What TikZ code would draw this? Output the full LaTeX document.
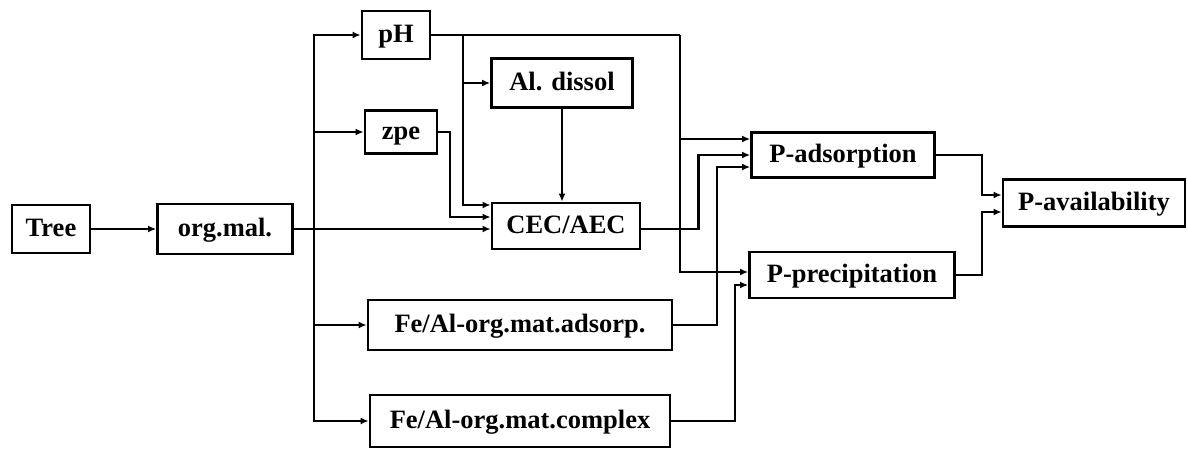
\documentclass[tikz,border=0pt]{standalone}
\usepackage{fontspec}
\setmainfont{Liberation Serif}
\usetikzlibrary{arrows.meta}
\begin{document}
\begin{tikzpicture}[x=1pt,y=-1pt,
  box/.style={draw,line width=2.8pt,inner sep=0pt,text height=17pt,text depth=2pt,font=\fontsize{26.5}{30}\selectfont\bfseries},
  conn/.style={line width=2.4pt},
  arr/.style={conn,-{Latex[length=8pt,width=7pt]}}]
\useasboundingbox (0,0) rectangle (1188,451);
\node[box,minimum width=78pt,minimum height=48pt] (tree) at (51,229) {Tree};
\node[box,minimum width=135pt,minimum height=50pt] (orgmal) at (225,229) {org.mal.};
\node[box,minimum width=68pt,minimum height=48pt] (ph) at (396,35) {pH};
\node[box,minimum width=72pt,minimum height=43pt] (zpe) at (401,132) {zpe};
\node[box,minimum width=141pt,minimum height=49pt] (aldissol) at (562,83) {Al. dissol};
\node[box,minimum width=148pt,minimum height=46pt] (cec) at (566,226) {CEC/AEC};
\node[box,minimum width=183pt,minimum height=45pt] (padsorp) at (843,155) {P-adsorption};
\node[box,minimum width=205pt,minimum height=46pt] (pprecip) at (852,275) {P-precipitation};
\node[box,minimum width=182pt,minimum height=47pt] (pavail) at (1094,203) {P-availability};
\node[box,minimum width=304pt,minimum height=50pt] (feads) at (520,325) {Fe/Al-org.mat.adsorp.};
\node[box,minimum width=300pt,minimum height=52pt] (fecomp) at (520,421) {Fe/Al-org.mat.complex};
\coordinate (trunk) at (314,229);
\coordinate (phR) at (680,35);
\coordinate (phD) at (463,35);
\draw[arr] (tree.east) -- (orgmal.west);
\draw[arr] (orgmal.east) -- (orgmal.east -| cec.west);
\draw[arr] (trunk) |- (ph.west);
\draw[arr] (trunk) |- (zpe.west);
\draw[arr] (trunk) |- (feads.west);
\draw[arr] (trunk) |- (fecomp.west);
\draw[conn] (ph.east) -- (phR);
\draw[arr] (phR) |- ([yshift=3pt]pprecip.west);
\draw[arr] (phR) |- ([yshift=16pt]padsorp.west);
\draw[arr] (phD) |- (aldissol.west);
\draw[arr] (phD) |- ([yshift=21pt]cec.west);
\draw[arr] (zpe.east) -- (zpe.east -| 450,0) |- ([yshift=9pt]cec.west);
\draw[arr] (aldissol.south) -- (aldissol.south |- cec.north);
\draw[arr] ([yshift=-3pt]cec.east) -- ++(57,0) |- (padsorp.west);
\draw[arr] (feads.east) -- (feads.east -| 717,0) |- ([yshift=-12pt]padsorp.west);
\draw[arr] (fecomp.east) -- (fecomp.east -| 735,0) |- ([yshift=-10pt]pprecip.west);
\draw[arr] (padsorp.east) -- (padsorp.east -| 982,0) |- ([yshift=8pt]pavail.west);
\draw[arr] (pprecip.east) -- (pprecip.east -| 982,0) |- ([yshift=-9pt]pavail.west);
\end{tikzpicture}
\end{document}
